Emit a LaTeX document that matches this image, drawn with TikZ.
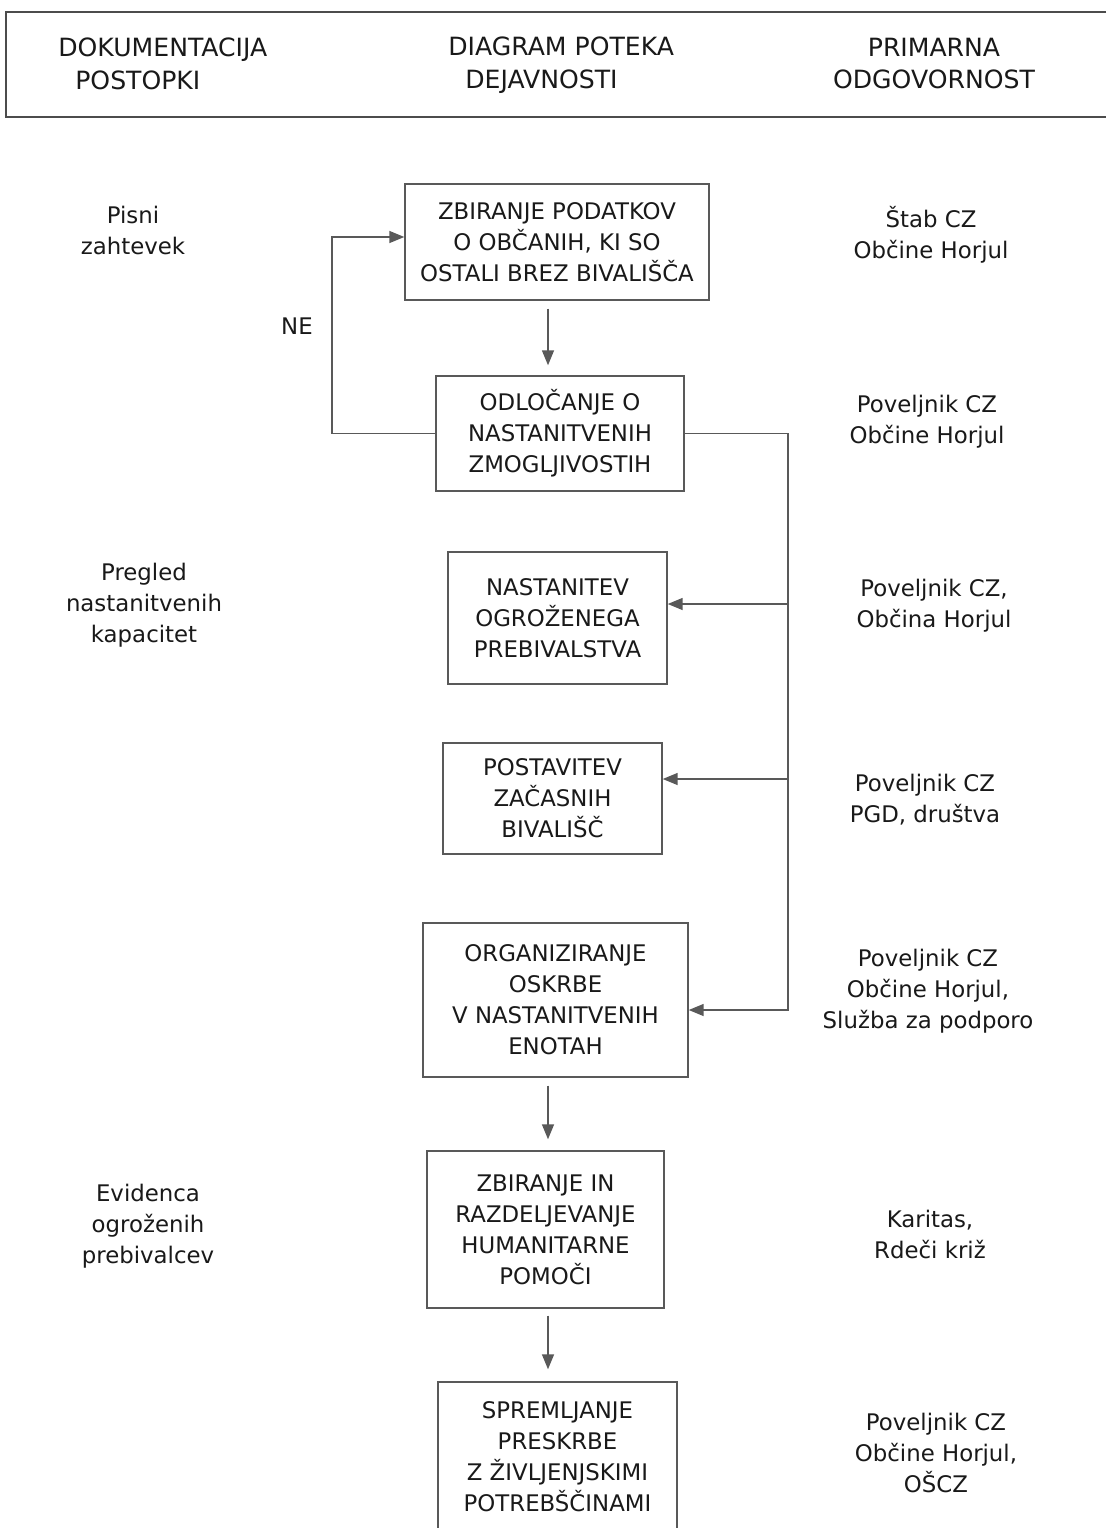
\documentclass[tikz,border=0pt]{standalone}
\usepackage{fontspec}
\setmainfont{DejaVu Sans}
\usetikzlibrary{arrows.meta}
\begin{document}
\begin{tikzpicture}[x=0.02cm,y=-0.02cm]
	\tikzstyle{box} = [rectangle,draw=black!65,line width=0.85pt,align=center,inner sep=0pt,font=\fontsize{13}{17.6}\selectfont,text=black!90]
	\tikzstyle{side} = [align=center,font=\fontsize{13}{17.6}\selectfont,text=black!90]
	\tikzstyle{head} = [font=\fontsize{14.3}{18.7}\selectfont,text=black!90]
	\tikzstyle{arr} = [draw=black!65,line width=0.85pt,-{Triangle[length=0.3cm,width=0.24cm]}]
	\useasboundingbox[fill=white] (0,0) rectangle (1106,1528);
	% header
	\draw[black!70,line width=0.9pt] (1106,12) -- (6,12) -- (6,117) -- (1106,117);
	\node[head,align=left,anchor=west,inner sep=0pt] (hdoc) at (58,63.5) {DOKUMENTACIJA\\\hspace*{0.34cm}POSTOPKI};
	\node[head,align=left,anchor=west,inner sep=0pt] (hdia) at (448,65.5) {DIAGRAM POTEKA\\\hspace*{0.34cm}DEJAVNOSTI};
	\node[head,align=center] (hodg) at (934,63.5) {PRIMARNA\\ODGOVORNOST};
	% activity boxes
	\node[box,minimum width=6.08cm,minimum height=2.32cm] (zbir) at (557,242) {ZBIRANJE PODATKOV\\O OBČANIH, KI SO\\OSTALI BREZ BIVALIŠČA};
	\node[box,minimum width=4.96cm,minimum height=2.30cm] (odl) at (560,433.5) {ODLOČANJE O\\NASTANITVENIH\\ZMOGLJIVOSTIH};
	\node[box,minimum width=4.38cm,minimum height=2.64cm] (nast) at (557.5,618) {NASTANITEV\\OGROŽENEGA\\PREBIVALSTVA};
	\node[box,minimum width=4.38cm,minimum height=2.22cm] (post) at (552.5,798.5) {POSTAVITEV\\ZAČASNIH\\BIVALIŠČ};
	\node[box,minimum width=5.30cm,minimum height=3.08cm] (org) at (555.5,1000) {ORGANIZIRANJE\\OSKRBE\\V NASTANITVENIH\\ENOTAH};
	\node[box,minimum width=4.74cm,minimum height=3.14cm] (hum) at (545.5,1229.5) {ZBIRANJE IN\\RAZDELJEVANJE\\HUMANITARNE\\POMOČI};
	\node[box,minimum width=4.78cm,minimum height=3.00cm] (spr) at (557.5,1457) {SPREMLJANJE\\PRESKRBE\\Z ŽIVLJENJSKIMI\\POTREBŠČINAMI};
	% documents
	\node[side] (dpis) at (133,230.5) {Pisni\\zahtevek};
	\node[side] (dpre) at (144,605) {Pregled\\nastanitvenih\\kapacitet};
	\node[side] (devi) at (148,1226) {Evidenca\\ogroženih\\prebivalcev};
	% responsibility
	\node[side] (rstab) at (931,234.5) {Štab CZ\\Občine Horjul};
	\node[side] (rodl) at (927,421.5) {Poveljnik CZ\\Občine Horjul};
	\node[side] (rnast) at (934,606) {Poveljnik CZ,\\Občina Horjul};
	\node[side] (rpost) at (925,799.5) {Poveljnik CZ\\PGD, društva};
	\node[side] (rorg) at (928,991) {Poveljnik CZ\\Občine Horjul,\\Služba za podporo};
	\node[side] (rhum) at (930,1234.5) {Karitas,\\Rdeči križ};
	\node[side] (rspr) at (936,1453) {Poveljnik CZ\\Občine Horjul,\\OŠCZ};
	\node[side] (ne) at (297,326) {NE};
	% connectors
	\coordinate (axis) at (548,0);
	\coordinate (neleft) at (332,237);
	\coordinate (busend) at (788,1010);
	\coordinate (brnast) at (788,604);
	\coordinate (brpost) at (788,779);
	\draw[arr,shorten <=0.16cm,shorten >=0.2cm] (zbir.south -| axis) -- (odl.north -| axis);
	\draw[arr,shorten <=0.16cm,shorten >=0.22cm] (org.south -| axis) -- (hum.north -| axis);
	\draw[arr,shorten <=0.14cm,shorten >=0.24cm] (hum.south -| axis) -- (spr.north -| axis);
	\draw[arr] (odl.west) -| (neleft) -- (neleft -| zbir.west);
	\draw[arr] (odl.east) -| (busend) -- (busend -| org.east);
	\draw[arr] (brnast) -- (brnast -| nast.east);
	\draw[arr] (brpost) -- (brpost -| post.east);
\end{tikzpicture}
\end{document}
